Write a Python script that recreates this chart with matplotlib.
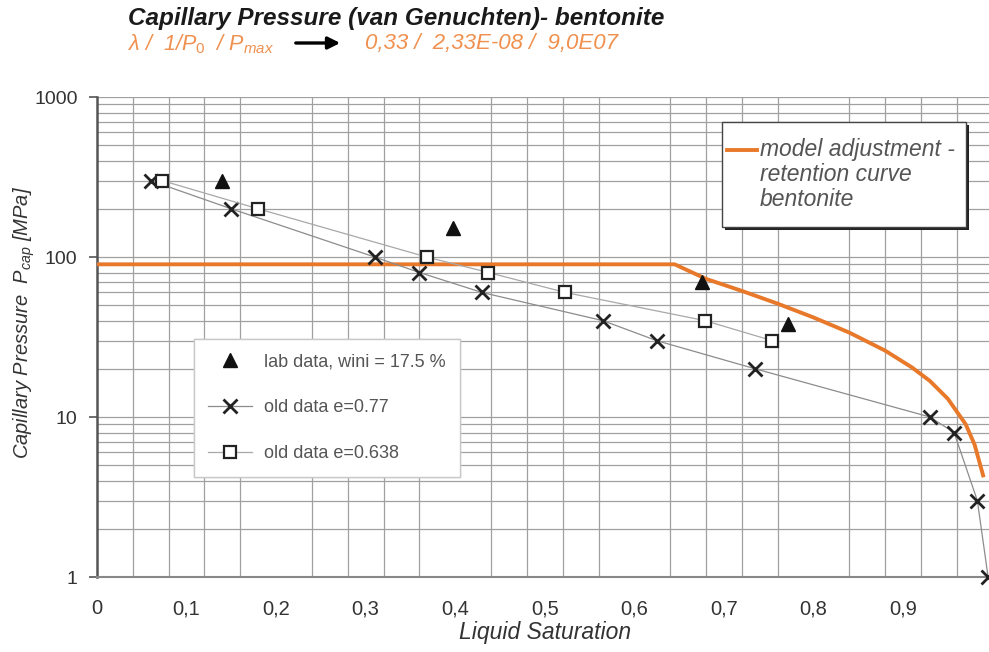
import numpy as np
import matplotlib
matplotlib.use("Agg")
import matplotlib.pyplot as plt
from matplotlib.ticker import FixedLocator, NullFormatter, LogLocator
from matplotlib.lines import Line2D
from matplotlib.patches import Rectangle, FancyArrowPatch

# ---------------- data ----------------
lab_S = [0.14, 0.397, 0.676, 0.772]
lab_P = [300, 152, 70, 38]

old077_S = [0.06, 0.15, 0.31, 0.36, 0.43, 0.565, 0.625, 0.735, 0.93, 0.957, 0.983, 0.995]
old077_P = [300, 200, 100, 80, 60, 40, 30, 20, 10, 8, 3, 1]

old0638_S = [0.073, 0.18, 0.368, 0.437, 0.523, 0.679, 0.754]
old0638_P = [300, 200, 100, 80, 60, 40, 30]

model_S = [0.0, 0.645, 0.68, 0.72, 0.76, 0.80, 0.84, 0.88, 0.91, 0.93, 0.95, 0.97, 0.98, 0.99]
model_P = [90, 90, 73, 61.4, 51.1, 41.9, 33.7, 26.0, 20.4, 16.8, 13.0, 9.0, 6.7, 4.2]

x_ticks = [0.0, 0.1, 0.2, 0.3, 0.4, 0.5, 0.6, 0.7, 0.8, 0.9]
x_ticklabels = ["0", "0,1", "0,2", "0,3", "0,4", "0,5", "0,6", "0,7", "0,8", "0,9"]
y_ticks = [1, 10, 100, 1000]
y_ticklabels = ["1", "10", "100", "1000"]

title = "Capillary Pressure (van Genuchten)- bentonite"
sub_left = r"λ /  1/P$_0$  / P$_{max}$"
sub_right = "0,33 /  2,33E-08 /  9,0E07"

# ---------------- style ----------------
plt.rcParams['font.family'] = ['Liberation Sans', 'DejaVu Sans']
plt.rcParams['mathtext.fontset'] = 'custom'
plt.rcParams['mathtext.rm'] = 'Liberation Sans'
plt.rcParams['mathtext.it'] = 'Liberation Sans:italic'
plt.rcParams['mathtext.bf'] = 'Liberation Sans:bold'

W, H = 989, 652
fig = plt.figure(figsize=(W / 100, H / 100), dpi=100)

def fx(px):
    return px / W

def fy(py):
    return 1 - py / H

L, R, T, B = 97, 989, 97, 577
ax = fig.add_axes([fx(L), fy(B), fx(R) - fx(L), fy(T) - fy(B)])

orange = '#E8792B'
sub_orange = '#F0904E'
grid_c = '#a0a0a0'
text_c = '#333333'

ax.set_yscale('log')
ax.set_xlim(0, 0.996)
ax.set_ylim(1, 1000)

# grid
ax.xaxis.set_minor_locator(FixedLocator(np.arange(0, 1.001, 0.04)))
ax.yaxis.set_minor_locator(LogLocator(base=10, subs=np.arange(2, 10)))
ax.yaxis.set_minor_formatter(NullFormatter())
ax.grid(True, which='both', axis='both', color=grid_c, lw=0.9)
ax.set_axisbelow(True)

ax.set_xticks(x_ticks)
ax.set_xticklabels(x_ticklabels)
ax.set_yticks(y_ticks)
ax.set_yticklabels(y_ticklabels)
ax.tick_params(axis='x', which='both', length=0, pad=16, labelsize=14.5, labelcolor=text_c)
ax.tick_params(axis='y', which='major', length=6, width=1.2, color='#555555', pad=8,
               labelsize=14, labelcolor=text_c)
ax.tick_params(axis='y', which='minor', length=0)
ax.xaxis.grid(False, which='major')

for s in ['top', 'right']:
    ax.spines[s].set_visible(False)
ax.spines['left'].set_color('#555555')
ax.spines['left'].set_linewidth(1.8)
ax.spines['bottom'].set_color('#888888')
ax.spines['bottom'].set_linewidth(1.5)

# series
model_line, = ax.plot(model_S, model_P, color=orange, lw=2.8, solid_capstyle='butt',
                      solid_joinstyle='round', zorder=3)
l077, = ax.plot(old077_S, old077_P, color='#8c8c8c', lw=0.9, marker='x', ms=9.5, mew=2.0,
                mec='#222222', zorder=4, label='old data e=0.77')
l0638, = ax.plot(old0638_S, old0638_P, color='#a8a8a8', lw=0.9, marker='s', ms=8.5, mew=1.6,
                 mec='#222222', mfc='white', zorder=4, label='old data e=0.638')
llab, = ax.plot(lab_S, lab_P, ls='none', marker='^', ms=10.5, color='#111111', zorder=5,
                label='lab data, wini = 17.5 %')
for ln in (l077, l0638, llab):
    ln.set_clip_on(False)

# legend 1 (data)
leg = ax.legend(handles=[llab, l077, l0638], loc='upper left',
                bbox_to_anchor=(fx(194), fy(339)), bbox_transform=fig.transFigure,
                borderaxespad=0, frameon=True, fancybox=False, edgecolor='#c8c8c8',
                framealpha=1, fontsize=13, labelcolor='#555555', handlelength=2.4,
                handletextpad=0.7, labelspacing=1.6, borderpad=0.8)
leg.get_frame().set_linewidth(1.0)
ax.add_artist(leg)

# legend 2 (model) - boxed key
bx0, by0, bx1, by1 = 722, 122, 966, 227
shadow = Rectangle((fx(bx0 + 3), fy(by1 + 3)), fx(bx1) - fx(bx0), fy(by0) - fy(by1),
                   transform=fig.transFigure, facecolor='#222222', edgecolor='none', zorder=6)
box = Rectangle((fx(bx0), fy(by1)), fx(bx1) - fx(bx0), fy(by0) - fy(by1),
                transform=fig.transFigure, facecolor='white', edgecolor='#444444', lw=1.0, zorder=7)
fig.patches.extend([shadow, box])
fig.lines.append(Line2D([fx(727), fx(757)], [fy(150), fy(150)], transform=fig.transFigure,
                        color=orange, lw=2.8, zorder=8))
fig.text(fx(760), fy(138), "model adjustment -\nretention curve\nbentonite",
         ha='left', va='top', fontsize=16.5, style='italic', color='#555555',
         linespacing=1.1, zorder=8)

# axis labels
ax.set_xlabel("Liquid Saturation", fontsize=16.5, style='italic', color=text_c)
ax.xaxis.set_label_coords((545 - L) / (R - L), (B - 632) / (B - T))
ax.xaxis.label.set_va('center')
ax.set_ylabel(r"Capillary Pressure  P$_{cap}$ [MPa]", fontsize=14.5, style='italic', color=text_c)
ax.yaxis.set_label_coords((24 - L) / (R - L), (B - 322) / (B - T))
ax.yaxis.label.set_va('center')

# titles
fig.text(fx(128), fy(18), title, ha='left', va='center', fontsize=17.5,
         fontweight='bold', style='italic', color='#1a1a1a')
fig.text(fx(128), fy(44), sub_left, ha='left', va='center', fontsize=15.5,
         style='italic', color=sub_orange)
fig.text(fx(365), fy(44), sub_right, ha='left', va='center', fontsize=16,
         style='italic', color=sub_orange)
fig.add_artist(FancyArrowPatch(
    (fx(293), fy(43)), (fx(343), fy(43)), transform=fig.transFigure,
    arrowstyle='-|>', mutation_scale=18, lw=2.4, color='black'))

fig.savefig("out.png", dpi=100)
